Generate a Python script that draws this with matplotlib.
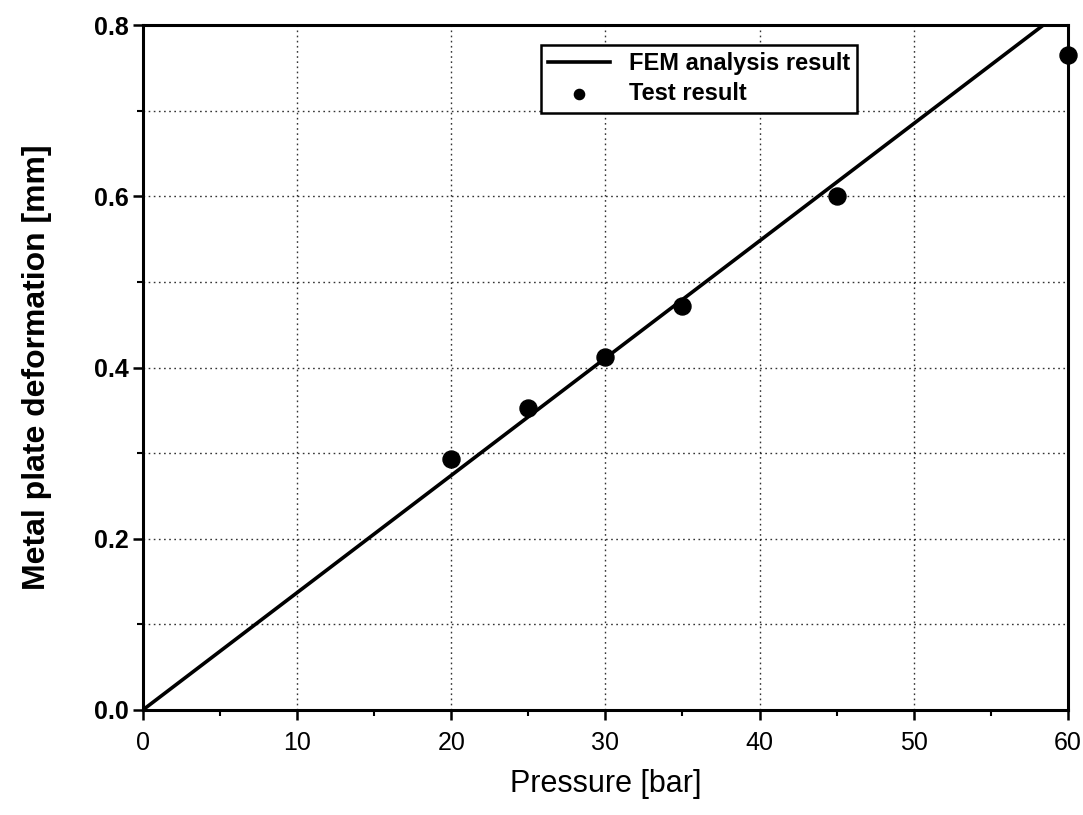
import matplotlib
matplotlib.use("Agg")
import matplotlib.pyplot as plt
import numpy as np
from matplotlib.ticker import MultipleLocator

matplotlib.rcParams.update({'font.family': ['Liberation Sans', 'DejaVu Sans'], 'font.size': 17})

# data
fem_pressure = [0, 60]
fem_deform = [0.0, 0.822]
test_pressure = [20, 25, 30, 35, 45, 60]
test_deform = [0.293, 0.353, 0.412, 0.472, 0.600, 0.765]

fig = plt.figure(figsize=(10.83, 8.15), dpi=100)
ax = fig.add_axes([0.132, 0.129, 0.854, 0.840])

ax.plot(fem_pressure, fem_deform, color='k', lw=2.6, label='FEM analysis result', zorder=3)
ax.scatter(test_pressure, test_deform, s=150, color='k', label='Test result', zorder=4, clip_on=False)

ax.set_xlim(0, 60)
ax.set_ylim(0, 0.8)
ax.xaxis.set_major_locator(MultipleLocator(10))
ax.xaxis.set_minor_locator(MultipleLocator(5))
ax.yaxis.set_major_locator(MultipleLocator(0.2))
ax.yaxis.set_minor_locator(MultipleLocator(0.1))
ax.yaxis.set_major_formatter(matplotlib.ticker.FormatStrFormatter('%.1f'))

grid_style = dict(color='k', linestyle=(0, (1.2, 2.5)), linewidth=1.0, alpha=0.8)
ax.grid(True, which='major', axis='x', **grid_style)
ax.grid(True, which='both', axis='y', **grid_style)

ax.tick_params(which='major', direction='out', length=7, width=1.8, labelsize=18)
ax.tick_params(which='minor', direction='out', length=4, width=1.5)
ax.tick_params(axis='x', which='major', pad=8)
for lab in ax.get_yticklabels():
    lab.set_fontweight('bold')

for s in ax.spines.values():
    s.set_linewidth(2.2)

ax.set_xlabel('Pressure [bar]', fontsize=22, labelpad=10)
ax.set_ylabel('Metal plate deformation [mm]', fontsize=23, fontweight='bold', labelpad=30)

leg = ax.legend(loc='upper left', bbox_to_anchor=(0.418, 0.988), fontsize=17, frameon=True,
                fancybox=False, edgecolor='k', framealpha=1, borderpad=0.3, handlelength=2.6,
                labelspacing=0.3, markerscale=0.6)
leg.get_frame().set_linewidth(1.8)
for t in leg.get_texts():
    t.set_fontweight('bold')

fig.savefig('out.png', dpi=100)
